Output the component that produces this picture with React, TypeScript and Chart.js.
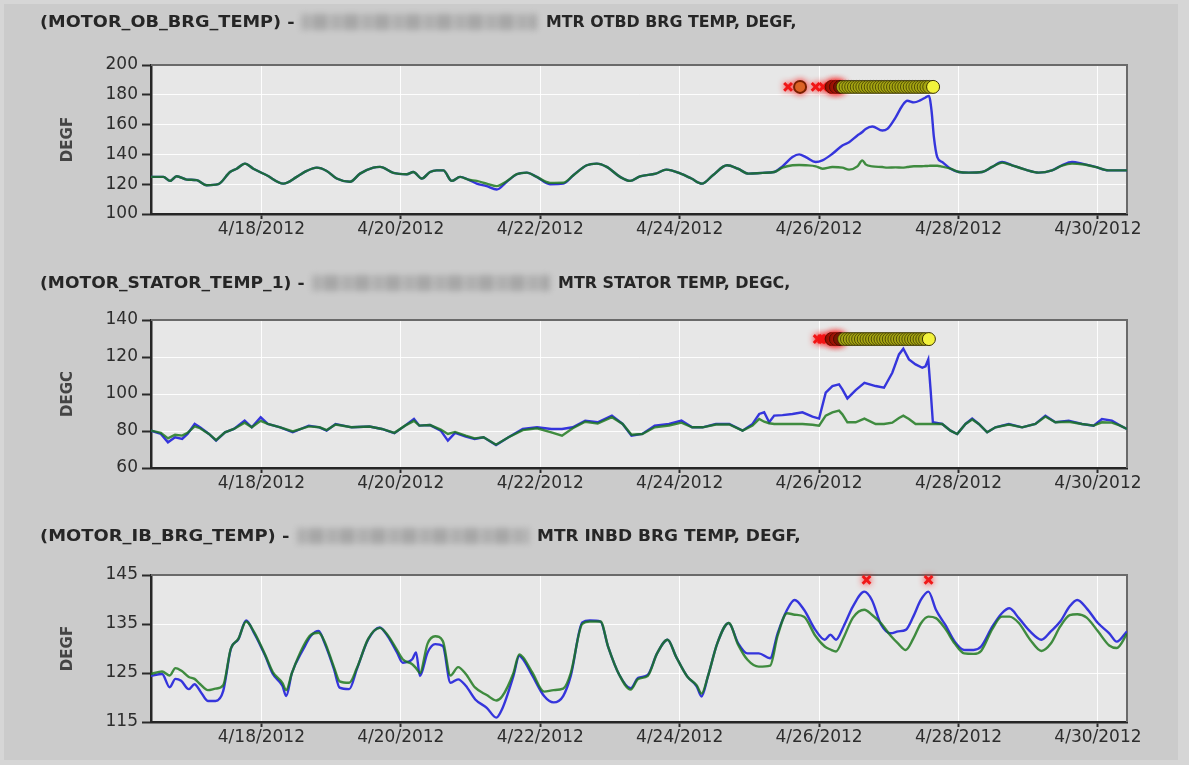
import React, { useEffect, useLayoutEffect, useRef } from 'react';
import { Chart, registerables } from 'chart.js';

Chart.register(...registerables);
Chart.defaults.font.family = "'DejaVu Sans', sans-serif";

// x values are days after 4/16/2012 00:00
const X_MIN = 0.4167;
const X_MAX = 14.4167;
const X_TICKS = [2, 4, 6, 8, 10, 12, 14];
const BASE_MONTH = 4;
const BASE_DAY = 16;
const BASE_YEAR = 2012;

// ---------- Panel 1: MOTOR_OB_BRG_TEMP (DEGF) ----------
const P1_T = [
  0.4167, 0.594, 0.689, 0.785, 0.929, 1.072, 1.215, 1.382, 1.55, 1.646,
  1.765, 1.885, 2.076, 2.315, 2.507, 2.65, 2.794, 2.937, 3.08, 3.271,
  3.415, 3.606, 3.702, 3.893, 4.085, 4.18, 4.3, 4.419, 4.515, 4.61,
  4.73, 4.85, 4.968, 5.089, 5.232, 5.376, 5.519, 5.663, 5.806, 5.95,
  6.14, 6.331, 6.475, 6.667, 6.81, 6.954, 7.145, 7.288, 7.431, 7.657,
  7.81, 8.015, 8.169, 8.32, 8.476, 8.68, 8.834, 8.987, 9.19, 9.356,
  9.475, 9.618, 9.714, 9.809, 9.952, 10.048, 10.191, 10.334, 10.43, 10.549,
  10.62, 10.668, 10.764, 10.907, 10.979, 11.098, 11.193, 11.265, 11.36, 11.456,
  11.527, 11.575, 11.613, 11.647, 11.695, 11.766, 11.885, 12.005, 12.148, 12.339,
  12.482, 12.625, 12.768, 12.96, 13.15, 13.341, 13.484, 13.628, 13.771, 13.962,
  14.153, 14.4167,
];
const P1_BLUE = [
  124.9, 124.9, 122.2, 125.3, 123.1, 122.7, 119.3, 120, 128.2, 130.4,
  133.8, 130.4, 126, 120.4, 124.9, 128.9, 131.1, 128.9, 123.8, 121.6,
  127.1, 131.1, 131.6, 127.6, 126.7, 128.2, 123.8, 128.2, 129.3, 129.3,
  122.2, 124.9, 123.1, 120.4, 118.7, 116.4, 121.6, 126.7, 127.8, 124.9,
  120, 120.4, 126, 132.7, 133.8, 131.6, 124.9, 122.2, 125.3, 127.1,
  129.8, 127.1, 123.8, 120.4, 126, 132.7, 130.4, 127.1, 127.6, 128.2,
  132, 138.2, 140, 138.2, 134.9, 136, 140.4, 146, 148.2, 152.7,
  155, 157.1, 158.7, 156, 157.1, 164.9, 172.7, 176, 174.9, 176.4,
  178.2, 179.3, 169.3, 151.6, 138.2, 134.9, 130.4, 128.2, 127.8, 128.2,
  131.6, 134.9, 132.7, 129.8, 127.8, 129.3, 132.7, 134.9, 133.8, 131.6,
  129.3, 129.3,
];
const P1_GREEN = [
  124.9, 124.9, 122.2, 125.3, 123.1, 122.7, 119.3, 120, 128.2, 130.4,
  133.8, 130.4, 126, 120.4, 124.9, 128.9, 131.1, 128.9, 123.8, 121.6,
  127.1, 131.1, 131.6, 127.6, 126.7, 128.2, 123.8, 128.2, 129.3, 129.3,
  122.2, 124.9, 123.1, 122.2, 120.4, 118.7, 122, 126.7, 127.8, 124.9,
  120.9, 121, 126, 132.7, 133.8, 131.6, 124.9, 122.2, 125.3, 127.1,
  129.8, 127.1, 123.8, 120.4, 126, 132.7, 130.4, 127.1, 127.6, 128.2,
  131.1, 132.7, 132.9, 132.7, 132, 130.4, 131.5, 131.1, 129.8, 132,
  136, 133.3, 132, 131.5, 131.1, 131.3, 131.1, 131.5, 132, 132,
  132.2, 132.3, 132.4, 132.4, 132.4, 131.8, 130.4, 128.2, 127.8, 128.2,
  131.6, 134.5, 132.7, 129.8, 127.8, 129.3, 132.4, 133.8, 133.4, 131.6,
  129.3, 129.3,
];
const P1_ALARM_LEVEL = 185.3;
const P1_RED_T = [9.555, 9.95, 10.06];
const P1_BROWN_T = [9.727];
const P1_DARK_T = [10.18, 10.24, 10.3];
const P1_ALARM_T = [
  10.34, 10.38, 10.42, 10.46, 10.5, 10.54, 10.58, 10.62, 10.66, 10.7,
  10.74, 10.78, 10.82, 10.86, 10.9, 10.94, 10.98, 11.02, 11.06, 11.1,
  11.14, 11.18, 11.22, 11.26, 11.3, 11.34, 11.38, 11.42, 11.46, 11.5,
  11.54, 11.58, 11.635,
];

// ---------- Panel 2: MOTOR_STATOR_TEMP_1 (DEGC) ----------
const P2_T = [
  0.4167, 0.558, 0.66, 0.762, 0.864, 0.941, 1.043, 1.12, 1.248, 1.35,
  1.478, 1.606, 1.76, 1.862, 1.99, 2.092, 2.271, 2.45, 2.68, 2.834,
  2.936, 3.064, 3.294, 3.55, 3.729, 3.908, 4.061, 4.189, 4.266, 4.419,
  4.573, 4.675, 4.778, 4.931, 5.059, 5.187, 5.366, 5.545, 5.749, 5.954,
  6.159, 6.312, 6.466, 6.645, 6.824, 7.028, 7.182, 7.309, 7.463, 7.642,
  7.847, 8.026, 8.179, 8.329, 8.52, 8.711, 8.902, 9.045, 9.141, 9.212,
  9.284, 9.356, 9.475, 9.618, 9.761, 9.905, 10.0, 10.095, 10.191, 10.286,
  10.334, 10.406, 10.525, 10.65, 10.811, 10.931, 11.05, 11.146, 11.208, 11.289,
  11.384, 11.48, 11.527, 11.566, 11.6, 11.632, 11.766, 11.885, 11.981, 12.1,
  12.196, 12.291, 12.411, 12.53, 12.721, 12.912, 13.103, 13.246, 13.389, 13.58,
  13.771, 13.938, 14.057, 14.2, 14.32, 14.4167,
];
const P2_BLUE = [
  80.2, 78.4, 73.9, 76.6, 75.7, 78.4, 83.8, 82, 78.4, 74.8,
  79.3, 81.1, 85.6, 82, 87.4, 83.8, 82, 79.3, 82.9, 82,
  80.2, 83.8, 82, 82.4, 81.1, 78.8, 82.9, 86.5, 82.9, 83.2,
  80.2, 74.8, 79, 77, 75.7, 76.6, 72.4, 76.6, 81.1, 82,
  81.1, 81.1, 82, 85.6, 84.7, 88.3, 83.8, 77.5, 78.4, 82.9,
  83.8, 85.6, 82, 82, 83.8, 83.8, 80.2, 83.8, 89.2, 90.1,
  84.7, 88.3, 88.6, 89.2, 90.1, 87.8, 86.7, 100.7, 104.3, 105.2,
  102.5, 97.6, 102.1, 106, 104.3, 103.4, 111.5, 121.4, 124.5, 118.7,
  116, 114.2, 115, 118.7, 102, 84.7, 83.8, 80.2, 78.4, 83.8,
  86.7, 83.8, 79.3, 82, 83.8, 82, 83.8, 88.3, 84.7, 85.6,
  83.8, 82.9, 86.5, 85.6, 82.9, 81.1,
];
const P2_GREEN = [
  80.2, 79, 76, 78, 77.5, 79, 82.5, 81.5, 78.4, 75,
  79.3, 81.1, 84.5, 82, 85.5, 83.8, 82, 79.8, 82.5, 82,
  80.5, 83.5, 82, 82.4, 81.1, 79, 82.9, 85.5, 82.9, 83.2,
  80.8, 78.4, 79.5, 77.5, 76, 76.6, 72.6, 76.6, 80.5, 81.5,
  79.3, 77.5, 81.5, 85, 84, 87.5, 83.8, 78, 78.4, 82,
  83, 84.5, 82, 82, 83.5, 83.5, 80.2, 82.9, 86.5, 85,
  84.2, 83.8, 83.8, 83.8, 83.8, 83.4, 82.9, 88.3, 90.1, 91,
  89, 84.7, 84.7, 86.7, 83.8, 83.8, 84.5, 87, 88.3, 86.5,
  83.8, 83.8, 83.8, 83.8, 83.8, 83.8, 83.8, 80.2, 78.4, 83.8,
  86.2, 83.8, 79.3, 82, 83.5, 82, 83.8, 87.8, 84.7, 85,
  83.8, 82.9, 84.7, 84.5, 82.9, 81.1,
];
const P2_ALARM_LEVEL = 129.7;
const P2_RED_T = [9.98, 10.04, 10.1];
const P2_BROWN_T: number[] = [];
const P2_DARK_T = [10.18, 10.24, 10.3];
const P2_ALARM_T = [
  10.36, 10.4, 10.44, 10.48, 10.52, 10.56, 10.6, 10.64, 10.68, 10.72,
  10.76, 10.8, 10.84, 10.88, 10.92, 10.96, 11.0, 11.04, 11.08, 11.12,
  11.16, 11.2, 11.24, 11.28, 11.32, 11.36, 11.4, 11.44, 11.48, 11.52,
  11.575,
];

// ---------- Panel 3: MOTOR_IB_BRG_TEMP (DEGF) ----------
const P3_T = [
  0.4167, 0.575, 0.685, 0.767, 0.849, 0.959, 1.041, 1.123, 1.233, 1.342,
  1.452, 1.562, 1.671, 1.781, 1.89, 2.055, 2.164, 2.301, 2.356, 2.438,
  2.603, 2.712, 2.822, 2.904, 3.041, 3.123, 3.26, 3.37, 3.534, 3.699,
  3.808, 3.945, 4.027, 4.164, 4.219, 4.274, 4.384, 4.493, 4.603, 4.712,
  4.822, 4.932, 5.068, 5.233, 5.37, 5.452, 5.616, 5.699, 5.753, 5.89,
  6.055, 6.192, 6.329, 6.438, 6.603, 6.712, 6.865, 6.973, 7.135, 7.297,
  7.405, 7.541, 7.676, 7.827, 7.946, 8.108, 8.243, 8.314, 8.405, 8.541,
  8.703, 8.838, 8.973, 9.135, 9.297, 9.405, 9.541, 9.649, 9.784, 9.946,
  10.081, 10.162, 10.243, 10.351, 10.486, 10.649, 10.757, 10.892, 11.027, 11.135,
  11.243, 11.351, 11.459, 11.568, 11.676, 11.811, 11.946, 12.081, 12.216, 12.324,
  12.486, 12.622, 12.73, 12.865, 13.027, 13.189, 13.324, 13.459, 13.595, 13.703,
  13.838, 14.0, 14.162, 14.27, 14.4167,
];
const P3_BLUE = [
  124.4, 124.8, 122.1, 123.8, 123.4, 121.7, 122.7, 121.3, 119.3, 119.3,
  121.3, 129.9, 131.9, 135.7, 133.3, 128.5, 124.8, 122.4, 120.3, 125,
  129.9, 132.6, 133.6, 131.2, 125.8, 122, 121.7, 125.8, 131.9, 134.3,
  132.6, 129.2, 127.1, 127.8, 129.2, 124.4, 129.2, 130.9, 130.5, 123,
  123.7, 122.4, 119.6, 117.9, 115.9, 117.6, 124.4, 128.5, 127.8, 124.4,
  120.3, 119, 120.3, 124.4, 135.3, 135.7, 135.5, 130.4, 124.6, 121.9,
  124, 124.6, 129, 131.8, 128.4, 124.3, 122.3, 120.2, 124.3, 131.1,
  135.2, 131.1, 129, 129, 128, 133.1, 137.9, 139.9, 137.9, 133.8,
  131.8, 132.8, 131.8, 134.5, 138.6, 141.6, 139.9, 134.8, 133.1, 133.5,
  133.8, 136.5, 139.9, 141.6, 137.9, 134.8, 131.4, 129.7, 129.7, 130.4,
  134.5, 137.2, 138.2, 136.2, 133.5, 131.8, 133.5, 135.5, 138.6, 139.9,
  138.2, 135.2, 133.1, 131.4, 133.5,
];
const P3_GREEN = [
  124.8, 125.3, 124.5, 126, 125.5, 124.2, 123.8, 122.7, 121.5, 121.8,
  122.5, 130, 132, 135.5, 133.5, 128.7, 125.2, 123, 121.5, 125,
  130.5, 132.8, 133.2, 131.5, 126.2, 123.3, 123, 126, 132, 134.2,
  132.8, 129.7, 127.8, 126.8, 126, 125, 131, 132.5, 131.5, 124.5,
  126.2, 124.8, 122, 120.5, 119.4, 120.2, 125, 128.8, 128.2, 125,
  121.2, 121.5, 121.8, 125, 135, 135.5, 135.5, 130.4, 124.6, 121.6,
  123.8, 124.4, 129, 131.8, 128.4, 124.3, 122.5, 120.8, 124.3, 131.1,
  135.2, 130.8, 127.7, 126.3, 126.5, 132.6, 137.2, 136.9, 136.5, 132.6,
  130.4, 129.8, 129.4, 132.2, 136.3, 137.9, 136.9, 135.1, 132.6, 131,
  129.7, 132, 135.1, 136.5, 136.2, 134, 131, 129, 128.9, 129.5,
  134, 136.5, 136.5, 135.2, 131.8, 129.5, 131, 134.5, 136.8, 137,
  136.3, 133.5, 130.6, 130.1, 133,
];
const P3_ALARM_LEVEL = 144;
const P3_RED_T = [10.68, 11.57];
const P3_BROWN_T: number[] = [];
const P3_DARK_T: number[] = [];
const P3_ALARM_T: number[] = [];

// ---------- layout ----------
const PAGE_W = 1189;
const PAGE_H = 765;
const AREA_LEFT = 151;
const AREA_RIGHT = 1127;
const PAD_TOP = 25;
const XAXIS_H = 35;

type PanelSpec = {
  t: number[];
  blue: number[];
  green: number[];
  yMin: number;
  yMax: number;
  yStep: number;
  yTitle: string;
  areaTop: number;
  areaBottom: number;
  level: number;
  redT: number[];
  brownT: number[];
  darkT: number[];
  alarmT: number[];
  smooth: boolean;
};

const PANELS: PanelSpec[] = [
  { t: P1_T, blue: P1_BLUE, green: P1_GREEN, yMin: 100, yMax: 200, yStep: 20, yTitle: 'DEGF',
    areaTop: 65, areaBottom: 214, level: P1_ALARM_LEVEL, redT: P1_RED_T, brownT: P1_BROWN_T,
    darkT: P1_DARK_T, alarmT: P1_ALARM_T, smooth: true },
  { t: P2_T, blue: P2_BLUE, green: P2_GREEN, yMin: 60, yMax: 140, yStep: 20, yTitle: 'DEGC',
    areaTop: 320, areaBottom: 468, level: P2_ALARM_LEVEL, redT: P2_RED_T, brownT: P2_BROWN_T,
    darkT: P2_DARK_T, alarmT: P2_ALARM_T, smooth: false },
  { t: P3_T, blue: P3_BLUE, green: P3_GREEN, yMin: 115, yMax: 145, yStep: 10, yTitle: 'DEGF',
    areaTop: 575, areaBottom: 722, level: P3_ALARM_LEVEL, redT: P3_RED_T, brownT: P3_BROWN_T,
    darkT: P3_DARK_T, alarmT: P3_ALARM_T, smooth: true },
];

type TitleSpec = {
  tag: string; tagLeft: number; tagWidth: number;
  blurLeft: number; blurWidth: number;
  desc: string; descLeft: number; descWidth: number;
  cy: number;
};
const TITLES: TitleSpec[] = [
  { tag: '(MOTOR_OB_BRG_TEMP) -', tagLeft: 40, tagWidth: 255, blurLeft: 301, blurWidth: 236,
    desc: 'MTR OTBD BRG TEMP, DEGF,', descLeft: 546, descWidth: 251, cy: 22 },
  { tag: '(MOTOR_STATOR_TEMP_1) -', tagLeft: 40, tagWidth: 265, blurLeft: 312, blurWidth: 238,
    desc: 'MTR STATOR TEMP, DEGC,', descLeft: 558, descWidth: 232, cy: 283 },
  { tag: '(MOTOR_IB_BRG_TEMP) -', tagLeft: 40, tagWidth: 250, blurLeft: 297, blurWidth: 232,
    desc: 'MTR INBD BRG TEMP, DEGF,', descLeft: 537, descWidth: 264, cy: 536 },
];

const fmtDate = (v: number) => `${BASE_MONTH}/${BASE_DAY + Math.round(v)}/${BASE_YEAR}`;

// dataset indices that get a soft red glow
const GLOW_SETS = [1, 2, 3];

const plotFrame = {
  id: 'plotFrame',
  beforeDraw(chart: any) {
    const { ctx, chartArea: a } = chart;
    ctx.save();
    ctx.fillStyle = '#e7e7e7';
    ctx.fillRect(a.left, a.top, a.right - a.left, a.bottom - a.top);
    ctx.restore();
  },
  beforeDatasetsDraw(chart: any) {
    const { ctx, chartArea: a } = chart;
    ctx.save();
    ctx.strokeStyle = '#6a6a6a';
    ctx.lineWidth = 2;
    ctx.beginPath();
    ctx.moveTo(a.left, a.top);
    ctx.lineTo(a.right, a.top);
    ctx.lineTo(a.right, a.bottom);
    ctx.stroke();
    ctx.restore();
  },
  beforeDatasetDraw(chart: any, args: any) {
    if (GLOW_SETS.includes(args.index)) {
      const ctx = chart.ctx;
      ctx.save();
      ctx.shadowColor = 'rgba(255,20,20,0.9)';
      ctx.shadowBlur = 6;
    }
  },
  afterDatasetDraw(chart: any, args: any) {
    if (GLOW_SETS.includes(args.index)) chart.ctx.restore();
  },
};

function Panel({ spec }: { spec: PanelSpec }) {
  const ref = useRef<HTMLCanvasElement>(null);
  const canvasTop = spec.areaTop - PAD_TOP;
  const canvasH = spec.areaBottom - canvasTop + XAXIS_H;

  useEffect(() => {
    if (!ref.current) return;
    const pts = (xs: number[], ys: number[]) => xs.map((x, i) => ({ x, y: ys[i] }));
    const lvl = (xs: number[], v: number) => xs.map((x) => ({ x, y: v }));
    const last = spec.alarmT.length - 1;
    const datasets: any[] = [
      {
        data: lvl(spec.alarmT, spec.level), showLine: false, pointStyle: 'circle', pointRadius: 6.5,
        pointBackgroundColor: spec.alarmT.map((_, i) => (i === last ? '#f2f23c' : '#a6a612')),
        pointBorderColor: spec.alarmT.map((_, i) => (i === last ? '#3a3000' : 'rgba(45,40,0,0.7)')),
        pointBorderWidth: 1, clip: false,
      },
      {
        data: lvl(spec.darkT, spec.level), showLine: false, pointStyle: 'circle', pointRadius: 6.5,
        pointBackgroundColor: '#6e1600', pointBorderColor: '#4a0c00', pointBorderWidth: 1, clip: false,
      },
      {
        data: lvl(spec.brownT, spec.level), showLine: false, pointStyle: 'circle', pointRadius: 6,
        pointBackgroundColor: '#d27a2c', pointBorderColor: '#7a2000', pointBorderWidth: 2, clip: false,
      },
      {
        data: lvl(spec.redT, spec.level), showLine: false, pointStyle: 'crossRot', pointRadius: 5.5,
        pointBorderColor: '#f01818', pointBorderWidth: 3, clip: false,
      },
      {
        data: pts(spec.t, spec.green), borderColor: 'rgba(26,118,26,0.82)', borderWidth: 2.4,
        pointRadius: 0, cubicInterpolationMode: spec.smooth ? 'monotone' : 'default',
      },
      {
        data: pts(spec.t, spec.blue), borderColor: '#3535dc', borderWidth: 2.4,
        pointRadius: 0, cubicInterpolationMode: spec.smooth ? 'monotone' : 'default',
      },
    ];
    const tickFont = { size: 17, family: "'DejaVu Sans', sans-serif" };
    const chart = new Chart(ref.current, {
      type: 'line',
      data: { datasets },
      options: {
        animation: false,
        responsive: false,
        maintainAspectRatio: false,
        events: [],
        layout: { padding: { top: PAD_TOP, right: PAGE_W - AREA_RIGHT, left: 0, bottom: 0 } },
        plugins: { legend: { display: false }, tooltip: { enabled: false }, title: { display: false } },
        scales: {
          x: {
            type: 'linear',
            min: X_MIN,
            max: X_MAX,
            afterBuildTicks: (s: any) => { s.ticks = X_TICKS.map((v) => ({ value: v })); },
            afterFit: (s: any) => { s.height = XAXIS_H; },
            ticks: {
              callback: (v: any) => fmtDate(Number(v)),
              autoSkip: false, maxRotation: 0, minRotation: 0, padding: 0,
              color: '#2d2d2d', font: tickFont,
            },
            grid: { color: 'rgba(255,255,255,0.9)', lineWidth: 1, tickColor: '#2a2a2a', tickLength: 5, tickWidth: 2 },
            border: { color: '#262626', width: 2.5 },
          },
          y: {
            type: 'linear',
            min: spec.yMin,
            max: spec.yMax,
            afterFit: (s: any) => { s.width = AREA_LEFT; },
            ticks: { stepSize: spec.yStep, padding: 4, color: '#2d2d2d', font: tickFont },
            grid: { color: 'rgba(255,255,255,0.9)', lineWidth: 1, tickColor: '#2a2a2a', tickLength: 9, tickWidth: 2 },
            border: { color: '#262626', width: 2.5 },
            title: {
              display: true, text: spec.yTitle, color: '#444',
              font: { size: 15, weight: 'bold', family: "'DejaVu Sans', sans-serif" },
              padding: { top: 59, bottom: 0 },
            },
          },
        },
      } as any,
      plugins: [plotFrame],
    });
    return () => chart.destroy();
  }, [spec]);

  return (
    <canvas
      ref={ref}
      width={PAGE_W}
      height={canvasH}
      style={{ position: 'absolute', left: 0, top: canvasTop, width: PAGE_W, height: canvasH }}
    />
  );
}

function FitText({ text, left, cy, width }: { text: string; left: number; cy: number; width: number }) {
  const ref = useRef<HTMLSpanElement>(null);
  useLayoutEffect(() => {
    const el = ref.current;
    if (!el) return;
    el.style.transform = 'none';
    const w = el.offsetWidth;
    if (w > 0) el.style.transform = `scaleX(${width / w})`;
  }, [text, width]);
  return (
    <span
      ref={ref}
      style={{
        position: 'absolute', left, top: cy - 9, lineHeight: '18px', height: 18,
        whiteSpace: 'nowrap', transformOrigin: '0 0', fontFamily: "'DejaVu Sans', sans-serif",
        fontWeight: 'bold', fontSize: 15, color: '#262626',
      }}
    >
      {text}
    </span>
  );
}

function Title({ spec }: { spec: TitleSpec }) {
  return (
    <>
      <FitText text={spec.tag} left={spec.tagLeft} cy={spec.cy} width={spec.tagWidth} />
      <div
        style={{
          position: 'absolute', left: spec.blurLeft, top: spec.cy - 8, width: spec.blurWidth, height: 16,
          background:
            'repeating-linear-gradient(90deg, #a9a9a9 0px, #a9a9a9 9px, #bbbbbb 9px, #bbbbbb 12px, #a0a0a0 12px, #a0a0a0 26px, #b9b9b9 26px, #b9b9b9 31px)',
          filter: 'blur(3px)',
          opacity: 0.85,
        }}
      />
      <FitText text={spec.desc} left={spec.descLeft} cy={spec.cy} width={spec.descWidth} />
    </>
  );
}

export default function App() {
  return (
    <div
      style={{
        position: 'fixed', left: 0, top: 0, width: PAGE_W, height: PAGE_H, overflow: 'hidden',
        background: '#d6d6d6',
      }}
    >
      <div style={{ position: 'absolute', left: 4, top: 4, width: 1174, height: 756, background: '#cbcbcb' }} />
      {TITLES.map((t, i) => <Title key={'t' + i} spec={t} />)}
      {PANELS.map((p, i) => <Panel key={'p' + i} spec={p} />)}
    </div>
  );
}
